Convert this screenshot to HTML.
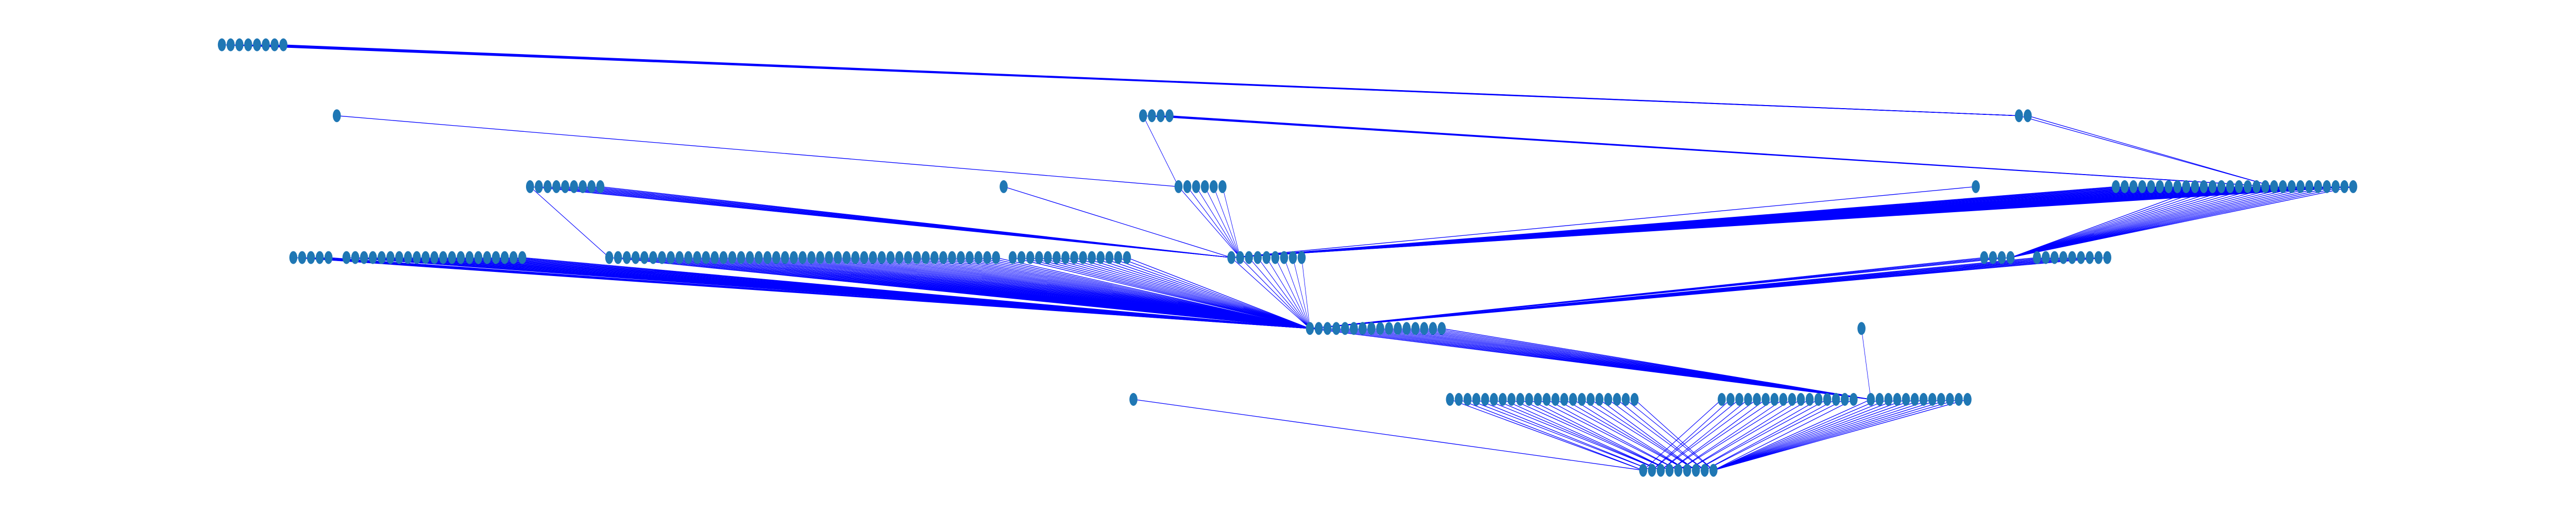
<!DOCTYPE html>
<html><head><meta charset="utf-8">
<style>html,body{margin:0;padding:0;background:#fff;width:100%;height:100%;overflow:hidden}svg{display:block;width:100vw;height:100vh}</style>
</head><body>
<svg id="chart" viewBox="0 0 8000 1000" preserveAspectRatio="none" xmlns="http://www.w3.org/2000/svg">
<g id="edges"></g>
<g id="nodes"></g>
</svg>
<script>
// node groups: layer index, x of first node, node count
const groupLayers = [0,1,1,1,2,2,2,2,2,3,3,3,3,3,3,3,4,4,5,5,5,5,6];
const groupStarts = [689,1046,3550,6270,1646,3117,3660,6136,6571,911,1076,1892,3145,3824,6162,6326,4068,5781,3520,4503,5347,5810,5103];
const groupCounts = [8,1,4,2,9,1,6,1,28,5,21,45,14,9,4,9,16,1,1,22,16,12,9];
// edges: source group, source first index, source last index, target group, target index
const edgeSrcGroup = [0,1,2,2,3,4,4,5,6,7,8,8,9,10,11,12,13,14,15,16,17,18,19,20,21];
const edgeSrcFrom  = [0,0,0,0,0,0,0,0,0,0,0,10,0,0,0,0,0,0,0,0,0,0,0,0,0];
const edgeSrcTo    = [7,0,0,3,1,0,8,0,5,0,27,27,4,20,44,13,8,3,8,15,0,0,21,15,11];
const edgeDstGroup = [3,6,6,8,8,11,13,13,13,13,13,14,16,16,16,16,16,16,16,21,21,22,22,22,22];
const edgeDstIndex = [0,0,0,18,18,0,0,0,1,0,0,3,0,0,0,0,0,0,0,0,0,0,-1,-1,8];

const layerY = l => 87 + l * 137.7;
const STEP = 27.3;
const nodeX = (g, i) => groupStarts[g] + i * STEP;
const ns = 'http://www.w3.org/2000/svg';
const eg = document.getElementById('edges');
const ng = document.getElementById('nodes');

for (let e = 0; e < edgeSrcGroup.length; e++) {
  const sg = edgeSrcGroup[e], tg = edgeDstGroup[e];
  for (let i = edgeSrcFrom[e]; i <= edgeSrcTo[e]; i++) {
    let ti = edgeDstIndex[e];
    if (ti < 0) ti = Math.min(groupCounts[tg] - 1, Math.round(i * (groupCounts[tg] - 1) / Math.max(1, edgeSrcTo[e])));
    const ln = document.createElementNS(ns, 'line');
    ln.setAttribute('x1', nodeX(sg, i)); ln.setAttribute('y1', layerY(groupLayers[sg]));
    ln.setAttribute('x2', nodeX(tg, ti)); ln.setAttribute('y2', layerY(groupLayers[tg]));
    ln.setAttribute('stroke', '#0000ff'); ln.setAttribute('stroke-width', '1.3');
    
    
    eg.appendChild(ln);
  }
}
for (let g = 0; g < groupStarts.length; g++) {
  for (let i = 0; i < groupCounts[g]; i++) {
    const c = document.createElementNS(ns, 'ellipse');
    c.setAttribute('cx', nodeX(g, i)); c.setAttribute('cy', layerY(groupLayers[g]));
    c.setAttribute('rx', 12.5); c.setAttribute('ry', 12.5);
    c.setAttribute('fill', '#1f77b4');
    
    
    ng.appendChild(c);
  }
}
</script>
</body></html>
